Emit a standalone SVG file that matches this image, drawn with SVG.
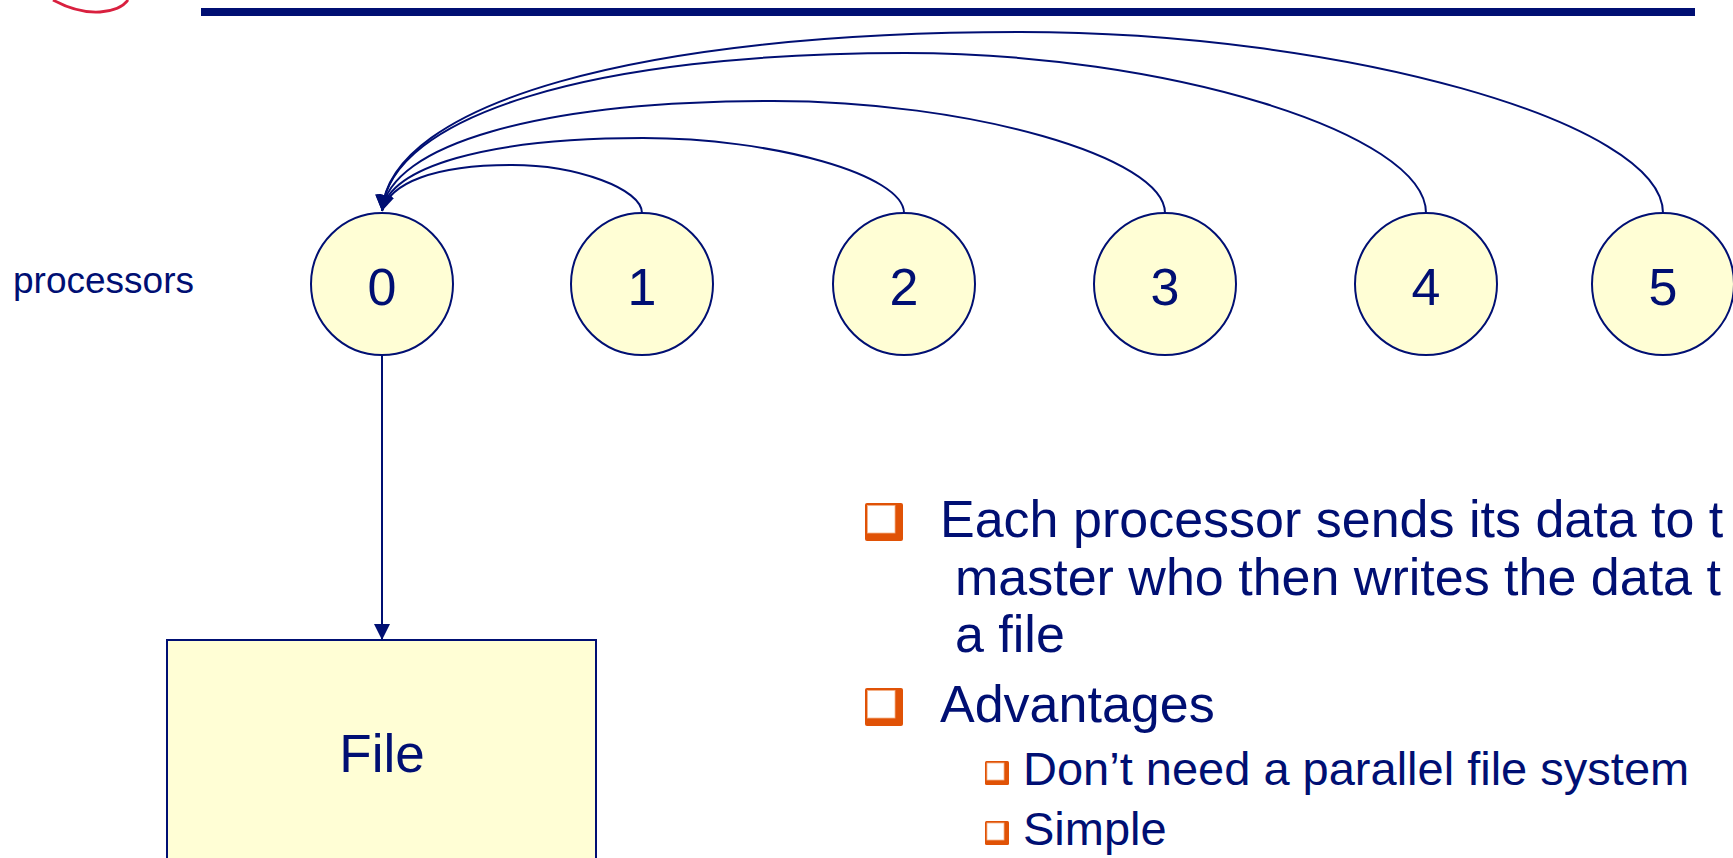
<svg xmlns="http://www.w3.org/2000/svg" width="1733" height="858" viewBox="0 0 1733 858">
  <style>
    text { font-family: "Liberation Sans", Arial, sans-serif; fill: #000F73; }
    .node { fill: #FFFED5; stroke: #000F73; stroke-width: 2; }
    .lbl { font-size: 52px; text-anchor: middle; }
    .conn { fill: none; stroke: #000F73; stroke-width: 2; marker-end: url(#arrow); }
    .b1 { font-size: 52px; }
    .b2 { font-size: 47px; }
    .bo { fill: #E05206; }
    .bi { fill: #FFFFFF; stroke: #F4B38A; stroke-width: 0.8; }
  </style>
  <defs>
    <marker id="arrow" markerUnits="userSpaceOnUse" markerWidth="16" markerHeight="16" viewBox="0 0 14 14" refX="14" refY="7" orient="auto">
      <path d="M0,0 L14,7 L0,14 z" fill="#000F73"/>
    </marker>
  </defs>
  <rect width="1733" height="858" fill="#FFFFFF"/>

  <!-- decorations -->
  <path d="M53,0 C66,7 84,13 100,12 C114,11 123,7 128,0" fill="none" stroke="#D9203F" stroke-width="2.8"/>
  <rect x="201" y="8" width="1494" height="8" fill="#000F73"/>

  <text x="13" y="293" style="font-size:37px">processors</text>

  <g id="connectors">
    <path class="conn" d="M642,213 C642,189 577,165 512,165 C434,165 390,183 382,211"/>
    <path class="conn" d="M904,213 C904,175 773,138 643,138 C486,138 390,167 382,211"/>
    <path class="conn" d="M1165,213 C1165,157 969,101 773,101 C538,101 390,145 382,211"/>
    <path class="conn" d="M1426,213 C1426,133 1165,53 905,53 C591,53 390,116 382,211"/>
    <path class="conn" d="M1663,213 C1663,122 1341,32 1020,32 C637,32 390,104 382,211"/>
    <path class="conn" d="M382,355 L382,640"/>
  </g>

  <g id="node-0"><circle class="node" cx="382" cy="284" r="71"/><text class="lbl" x="382" y="305">0</text></g>
  <g id="node-1"><circle class="node" cx="642" cy="284" r="71"/><text class="lbl" x="642" y="305">1</text></g>
  <g id="node-2"><circle class="node" cx="904" cy="284" r="71"/><text class="lbl" x="904" y="305">2</text></g>
  <g id="node-3"><circle class="node" cx="1165" cy="284" r="71"/><text class="lbl" x="1165" y="305">3</text></g>
  <g id="node-4"><circle class="node" cx="1426" cy="284" r="71"/><text class="lbl" x="1426" y="305">4</text></g>
  <g id="node-5"><circle class="node" cx="1663" cy="284" r="71"/><text class="lbl" x="1663" y="305">5</text></g>

  <g id="file">
    <rect x="167" y="640" width="429" height="240" fill="#FFFED5" stroke="#000F73" stroke-width="2"/>
    <text x="382" y="772" style="font-size:53px" text-anchor="middle">File</text>
  </g>

  <g id="bullets">
    <rect class="bo" x="865" y="503" width="38" height="38" rx="2"/>
    <rect class="bi" x="867.5" y="505.5" width="27.5" height="27.5"/>
    <text class="b1" x="940" y="537">Each processor sends its data to t</text>
    <text class="b1" x="955" y="595">master who then writes the data t</text>
    <text class="b1" x="955" y="652">a file</text>

    <rect class="bo" x="865" y="688" width="38" height="38" rx="2"/>
    <rect class="bi" x="867.5" y="690.5" width="27.5" height="27.5"/>
    <text class="b1" x="940" y="722">Advantages</text>

    <rect class="bo" x="985" y="761" width="24" height="24" rx="1.5"/>
    <rect class="bi" x="987" y="763" width="17" height="17"/>
    <text class="b2" x="1023" y="785">Don’t need a parallel file system</text>

    <rect class="bo" x="985" y="821" width="24" height="24" rx="1.5"/>
    <rect class="bi" x="987" y="823" width="17" height="17"/>
    <text class="b2" x="1023" y="845">Simple</text>
  </g>
</svg>
